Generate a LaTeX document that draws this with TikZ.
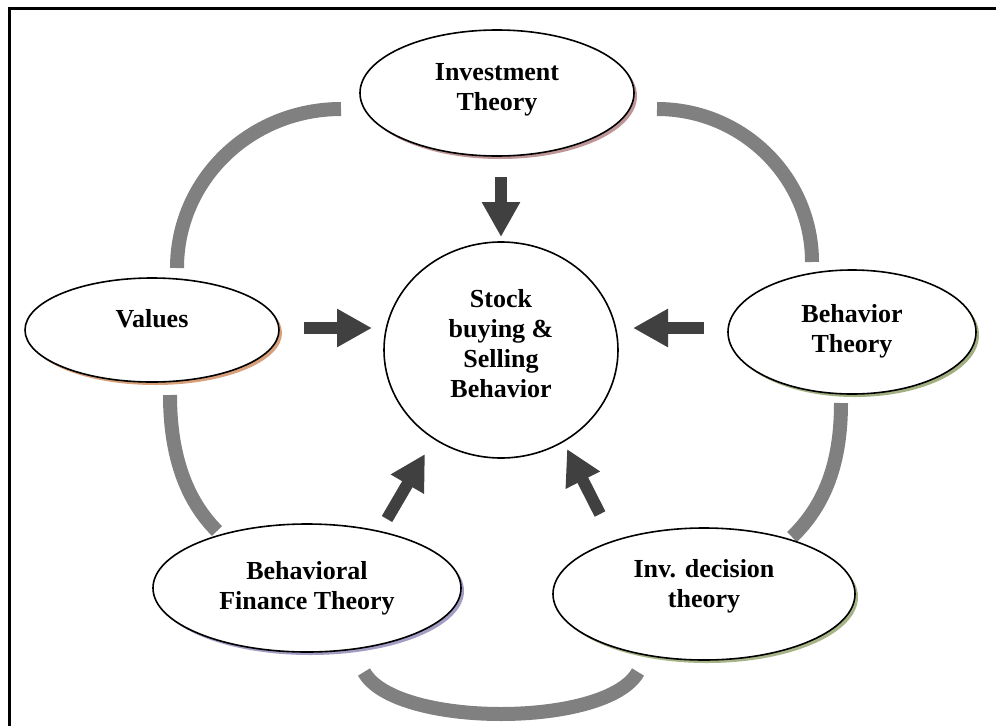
\documentclass[tikz,border=0pt]{standalone}
\usepackage{fontspec}
\setmainfont{Liberation Serif}
\usetikzlibrary{shapes.geometric,shadows,arrows.meta}
\definecolor{arcgray}{HTML}{808080}
\definecolor{arrgray}{HTML}{404040}
\definecolor{shA}{HTML}{BF9697}
\definecolor{shB}{HTML}{D8A07A}
\definecolor{shC}{HTML}{A2AF80}
\definecolor{shD}{HTML}{A39DC3}
\definecolor{shE}{HTML}{A7B487}
\begin{document}
\begin{tikzpicture}[x=1pt,y=-1pt,
  ell/.style={ellipse, draw=black, line width=1.6pt, fill=white, inner sep=0pt},
  shadowed/.style={drop shadow={shadow xshift=3pt, shadow yshift=-3pt, fill=#1, opacity=1}},
  lbl/.style={font=\fontsize{26}{30}\selectfont\bfseries, align=center, inner sep=0pt},
  ring/.style={draw=arcgray, line width=14pt},
  barrow/.style={draw=arrgray, line width=12pt, -{Triangle[length=35pt,width=36pt]}}
]
\useasboundingbox (0,0) rectangle (996,726);
\draw[line width=3pt] (9,726) -- (9,8) -- (996,8);

% ring arcs
\coordinate (r1a) at (177,268);
\coordinate (r1b) at (341,109);
\coordinate (r2a) at (657,109);
\coordinate (r2b) at (812,262);
\coordinate (r3a) at (841,403);
\coordinate (r3b) at (792,537);
\coordinate (r4a) at (170,395);
\coordinate (r4b) at (217,531);
\coordinate (r5a) at (364,672);
\coordinate (r5b) at (638,672);
\draw[ring] (r1a) .. controls (177,180) and (250,109) .. (r1b);
\draw[ring] (r2a) .. controls (743,109) and (812,178) .. (r2b);
\draw[ring] (r3a) .. controls (841,463) and (825,505) .. (r3b);
\draw[ring] (r4a) .. controls (170,455) and (186,500) .. (r4b);
\draw[ring] (r5a) .. controls (395,728) and (607,728) .. (r5b);

% nodes
\node[ell, minimum width=274pt, minimum height=126pt, shadowed=shA] (inv) at (497,93) {};
\node[lbl] (invt) at (497,90) {Investment\\Theory};
\node[ell, minimum width=254pt, minimum height=104pt, shadowed=shB] (val) at (152,330) {};
\node[lbl] (valt) at (152,319) {Values};
\node[ell, minimum width=248pt, minimum height=124pt, shadowed=shC] (beh) at (852,332) {};
\node[lbl] (beht) at (852,331) {Behavior\\Theory};
\node[ell, minimum width=308pt, minimum height=128pt, shadowed=shD] (bft) at (307,588) {};
\node[lbl] (bftt) at (307,588) {Behavioral\\Finance Theory};
\node[ell, minimum width=302pt, minimum height=132pt, shadowed=shE] (idt) at (704,594) {};
\node[lbl] (idtt) at (704,586) {Inv. decision\\theory};
\node[ell, minimum width=234pt, minimum height=216pt] (sb) at (501,350) {};
\node[lbl] (sbt) at (501,344) {Stock\\buying \&\\Selling\\Behavior};

% block arrows
\coordinate (a1t) at (501,177);
\coordinate (a1h) at (501,237);
\coordinate (a2t) at (304,328);
\coordinate (a2h) at (372,328);
\coordinate (a3t) at (704,328);
\coordinate (a3h) at (633,328);
\coordinate (a4t) at (387,519);
\coordinate (a4h) at (425,454);
\coordinate (a5t) at (600,514);
\coordinate (a5h) at (567,449);
\draw[barrow] (a1t) -- (a1h);
\draw[barrow] (a2t) -- (a2h);
\draw[barrow] (a3t) -- (a3h);
\draw[barrow] (a4t) -- (a4h);
\draw[barrow] (a5t) -- (a5h);
\end{tikzpicture}
\end{document}
